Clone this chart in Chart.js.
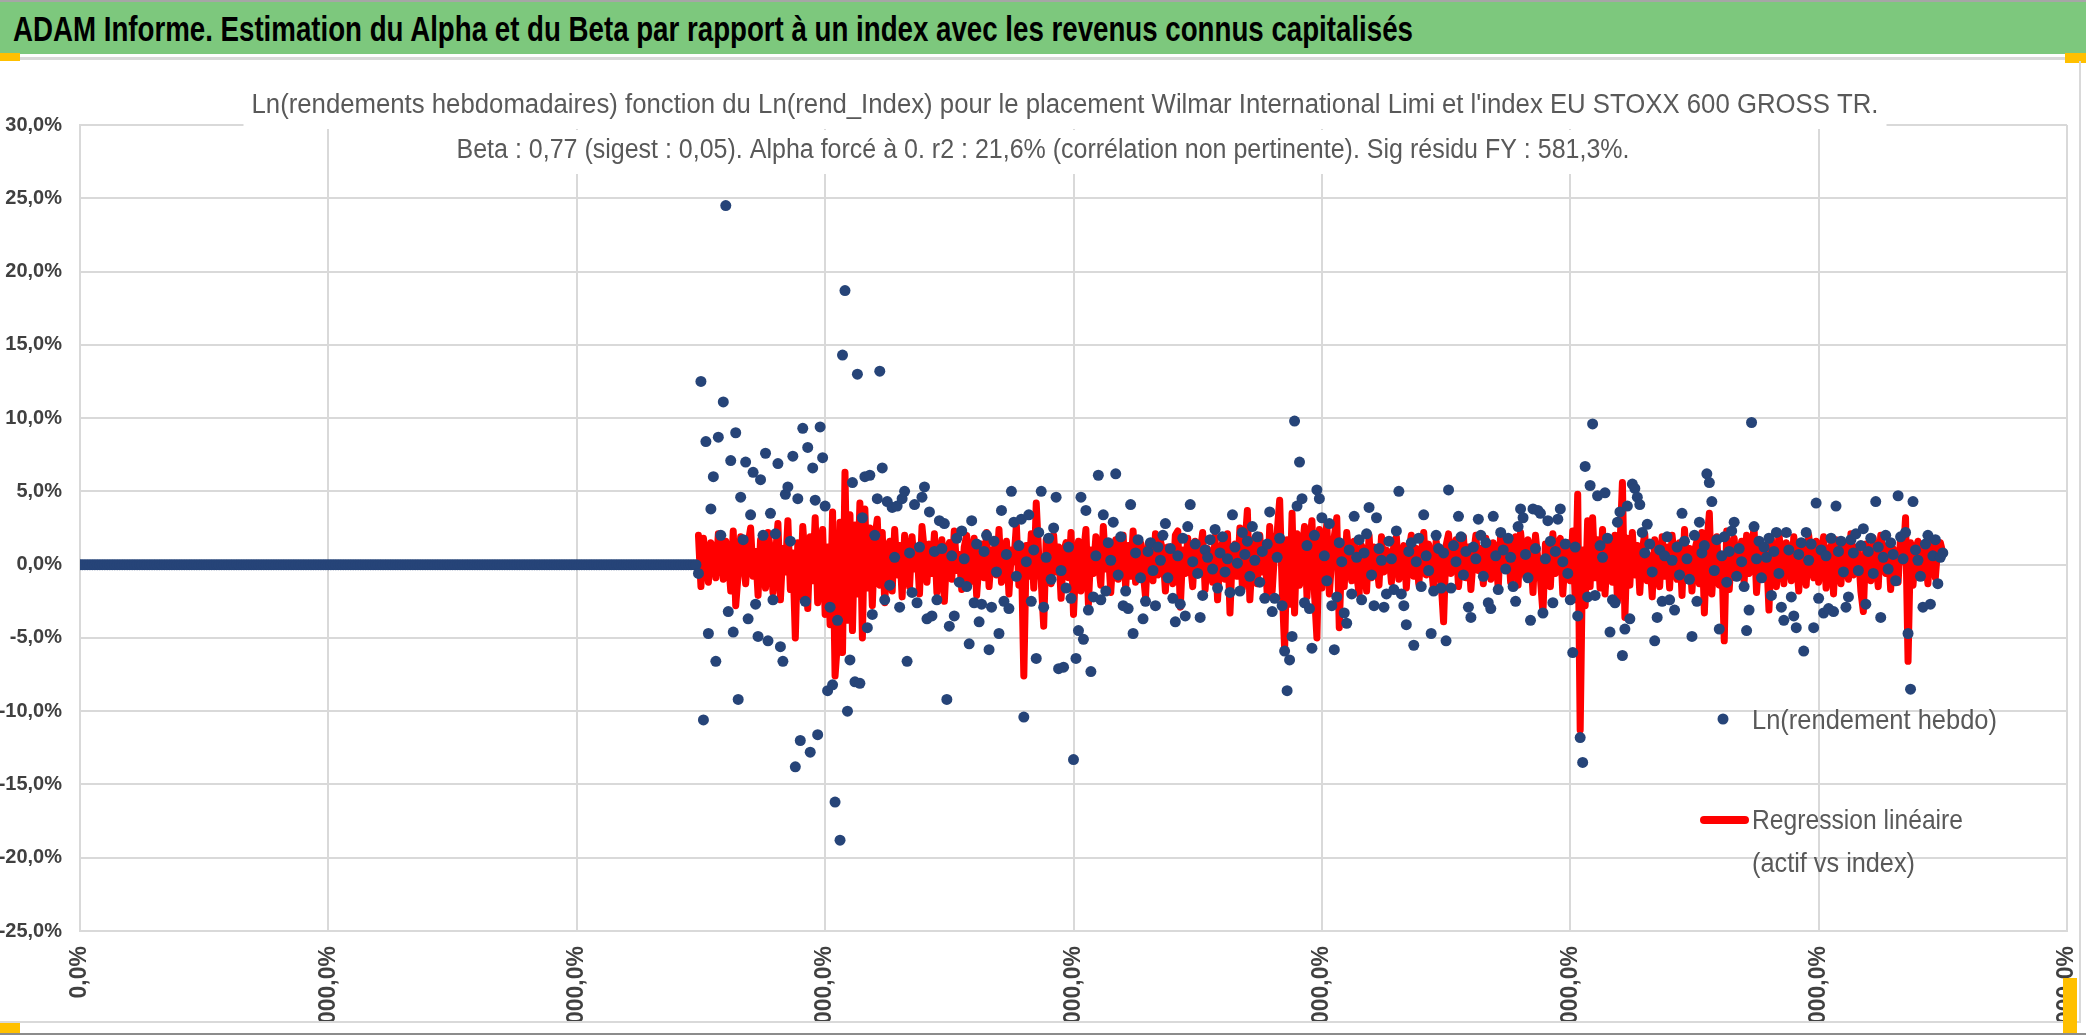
<!DOCTYPE html>
<html>
<head>
<meta charset="utf-8">
<script src="https://cdn.jsdelivr.net/npm/chart.js@4.4.1/dist/chart.umd.min.js"></script>
<style>
  html, body { margin: 0; padding: 0; background: #fff; width: 2086px; height: 1035px; overflow: hidden; position: relative; }
  #bar { position: absolute; left: 0; top: 0; width: 2086px; height: 54px; background: #7dc87d; border-top: 2px solid #a6a6a6; box-sizing: border-box; }
  #barTitle { position: absolute; left: 13px; top: 26px; transform-origin: 0 50%; font-weight: bold; color: #000; white-space: nowrap;
              font-family: "Liberation Sans Narrow", "Liberation Sans", sans-serif; font-size: 35px; line-height: 35px; margin-top: -17px; }
  #sep { position: absolute; left: 20px; top: 57px; width: 2066px; height: 3px; background: #d9d9d9; }
  .handle { position: absolute; background: #ffc000; }
  #wrap { position: absolute; left: 0; top: 61px; width: 2079px; height: 960px; }
  #rightLine { position: absolute; left: 2079px; top: 61px; width: 2px; height: 962px; background: #d9d9d9; }
  #bottomLine { position: absolute; left: 0; top: 1021px; width: 2081px; height: 2px; background: #d9d9d9; }
  #bottomDark { position: absolute; left: 0; top: 1033px; width: 2086px; height: 2px; background: #8c8c8c; }
</style>
</head>
<body>
<div id="bar"><span id="barTitle">ADAM Informe. Estimation du Alpha et du Beta par rapport à un index avec les revenus connus capitalisés</span></div>
<div class="handle" style="left:0;top:53px;width:20px;height:8px"></div>
<div id="sep"></div>
<div class="handle" style="left:2065px;top:53px;width:21px;height:10px"></div>
<div id="wrap"><canvas id="chart"></canvas></div>
<div id="rightLine"></div>
<div id="bottomLine"></div>
<div id="bottomDark"></div>
<div class="handle" style="left:0;top:1023px;width:20px;height:10px"></div>
<div class="handle" style="left:2063px;top:978px;width:14px;height:55px"></div>
<script>
// titre du graphique (2 lignes)
const titre = [
  "Ln(rendements hebdomadaires) fonction du Ln(rend_Index) pour le placement Wilmar International Limi et l'index EU STOXX 600 GROSS TR.",
  "Beta : 0,77 (sigest : 0,05). Alpha forcé à 0. r2 : 21,6% (corrélation non pertinente). Sig résidu FY : 581,3%."
];
const legende = ["Ln(rendement hebdo)", "Regression linéaire", "(actif vs index)"];

// axes (valeurs en %)
const yMin = -25, yMax = 30, yPas = 5;
const xMin = 0, xMax = 800, xPas = 100;

// semaines sans historique : rendement nul
const semainesVides = 249;
// premiere semaine avec historique
const premiereSemaine = 249;

// Ln(rendement hebdo) en %, semaine 249 a 750
const rendHebdo = [
  -0.6, 12.5, -10.6, 8.4, -4.7, 3.8, 6.0, -6.6, 8.7, 2.0,
  11.1, 24.5, -3.2, 7.1, -4.6, 9.0, -9.2, 4.6, 1.7, 7.0,
  -3.7, 3.4, 6.3, -2.7, -4.9, 5.8, 2.0, 7.6, -5.2, 3.5,
  -2.4, 2.1, 6.9, -5.6, -6.6, 4.8, 5.3, 1.6, 7.4, -13.8,
  4.5, -12.0, 9.3, -2.5, 8.0, -12.8, 6.6, 4.4, -11.6, 9.4,
  7.3, 4.0, -8.6, -2.9, -8.2, -16.2, -3.8, -18.8, 14.3, 18.7,
  -10.0, -6.5, 5.6, -8.0, 13.0, -8.1, 3.2, 6.0, -4.3, 6.1,
  -3.4, 2.0, 4.5, 13.2, 6.6, -2.4, 4.3, -1.4, 3.9, 0.5,
  4.0, -2.9, 4.5, 5.0, -6.6, 0.8, -1.9, 4.1, -2.6, 1.2,
  4.6, 5.3, -3.7, 3.6, -3.5, 0.9, -2.4, 3.0, 1.1, 2.8,
  -9.2, -4.2, 0.6, -3.5, 1.8, -1.2, 2.3, 0.4, -1.5, -5.4,
  3.0, -2.6, 1.4, -3.9, -2.7, 0.9, 2.0, -5.8, -2.9, 1.6,
  -0.5, -4.7, 3.7, -2.5, 0.7, -3.0, 5.0, 2.9, -0.8, 1.3,
  3.1, -10.4, 0.2, 3.4, -2.5, 1.0, -6.4, 2.2, 5.0, -2.9,
  0.5, 1.8, -1.0, 2.5, 4.6, -7.1, -0.4, -7.0, -1.6, 1.2,
  -2.3, -13.3, -6.4, -4.5, 4.6, -5.1, 3.7, -3.1, -7.3, -2.2,
  0.6, 6.1, -2.4, 3.4, -1.8, 1.5, 0.3, 2.9, 6.2, -0.7,
  1.9, -2.8, -1.8, -3.0, 4.1, -4.7, 0.8, 1.7, -0.9, -3.7,
  -2.5,
  0.9, 1.5, -0.4, -2.8, 1.2, 0.3, 2.0, 2.8, -0.9, 1.1,
  -2.3, -3.9, 0.6, -2.7, 1.8, -3.5, 2.6, 4.1, 0.2, 1.4,
  -0.6, -3.6, -2.1, 1.0, 0.5, 1.7, -0.3, 2.4, -1.6, 0.8,
  1.9, -0.5, 0.4, -1.9, 3.4, 1.2, 0.1, -1.8, 2.2, 0.7,
  1.6, -0.8, 2.6, 0.3, 1.9, -1.2, 0.9, -2.3, 1.4, 3.6,
  -3.2, -2.3, 0.5, 1.8, -2.8, -5.9, -8.6, -6.5, -4.9, 9.8,
  4.0, 7.0, 4.5, -2.6, 1.3, -3.0, -5.7, 2.0, 5.1, 4.5,
  3.2, 0.6, -1.1, 2.8, -2.8, -5.8, -2.2, 1.5, 0.2, -3.3,
  -4.0, 1.0, -2.0, 3.3, 0.5, 1.7, -2.4, 0.8, 2.1, 3.9,
  -0.7, -2.8, 3.2, 1.1, 0.3, -2.9, -2.0, 1.6, 0.4, -1.7,
  2.3, 5.0, -2.0, -2.8, -4.1, 0.9, 1.5, -5.5, 0.2, 1.8,
  -1.5, 3.4, 0.6, -0.4, -4.7, -1.8, 2.0, 1.1, -1.6, 0.8,
  -5.2, 5.1, -1.6, 1.3, 0.2, 3.3, 1.9, -0.7, 0.9, -2.9,
  -3.6, 1.2, 0.4, 3.1, 2.0, -0.8, 1.5, -2.6, -3.0, 3.3,
  0.6, -1.7, 2.2, 1.0, -0.3, 1.8, 0.5, -1.5, -2.5, 2.6,
  3.8, 3.2, 0.7, -0.9, -3.8, 3.8, 1.1, 3.7, 3.5, -3.3,
  0.4, 3.0, 1.6, -2.6, 0.9, 3.1, 3.8, 0.2, 1.4, -0.6,
  -2.4, -6.0, 1.2, -3.5, -11.8, -13.5, 6.7, -2.2, 5.4, 9.6,
  -2.1, 4.7, 1.3, 0.5, 4.9, 1.8, -4.6, -2.4, -2.6, 2.9,
  3.6, -6.2, -4.4, 4.0, -3.7, 5.5, 5.2, 4.6, 4.1, 2.2,
  0.8, 2.75, 1.4, -0.5, -5.2, -3.6, 1.0, -2.5, 0.6, 1.9,
  -2.4, 0.3, -3.1, 1.2, -0.7, 3.5, 1.6, 0.4, -1.0, -4.9,
  2.0, -2.5, 2.9, 0.8, 1.3, 6.2, 5.6, 4.3, -0.4, 1.7,
  -4.4, 0.6, 1.9, -1.2, 0.9, 2.3, 2.9, -0.8, 1.1, 0.2,
  -1.5, -4.5, -3.1, 9.7, 2.6, 0.4, 1.6, -0.9, 1.2, 0.5,
  1.8, -2.1, 0.9, 2.2, -0.6, -2.9, -3.8, 2.2, 1.0, -2.2,
  -3.5, -4.3, 0.7, 1.5, -5.9, 2.2, 0.3, 1.4, -4.3, 4.2,
  -2.3, 1.0, -3.3, 0.6, -3.0, 1.8, -3.2, 4.0, 0.9, 1.6,
  -0.5, -2.9, -2.2, 1.7, 0.8, 2.1, -0.4, 1.3, 2.45, -2.7,
  0.9, 1.8, -0.6, 4.3, 1.2, -3.6, 0.5, 2.0, -0.3, 1.5,
  0.7, -1.1, 4.7, 1.9, 0.4, 2.2, -4.7, -8.5, 4.3, 1.0,
  0.3, -0.8, -2.9, 1.4, 2.0, -2.7, 0.6, 1.7, -1.3, 0.5,
  0.8
];

// Regression lineaire (actif vs index) en %, semaine 249 a 750
const regression = [
  2.0, -1.5, 1.8, 0.4, -1.2, 1.5, 0.8, -0.9, 2.1, 1.2,
  -1.0, 1.6, 0.5, -1.8, 2.3, -2.8, -0.6, 1.9, 0.7, -1.3,
  1.4, 2.5, -0.8, 0.9, -2.1, 1.7, 0.3, -1.6, 2.2, 1.0,
  -1.9, 0.6, 2.8, -2.4, 1.1, -0.5, 3.0, -1.7, 0.8, -5.0,
  1.5, -2.2, 2.6, 0.2, -3.0, 1.9, -1.1, 3.2, -2.6, 0.7,
  2.4, -3.4, 1.2, -4.1, 3.6, -7.6, -5.2, 2.9, -6.0, 6.3,
  -3.8, 3.4, -4.5, 2.7, -2.0, 4.2, -5.0, 3.8, -1.6, 2.5,
  -2.8, 1.8, 3.1, -1.4, 2.2, -2.6, 0.9, 1.6, -1.8, 2.4,
  -0.7, 1.3, -2.2, 2.0, 0.4, -1.5, 1.9, -0.3, 1.1, -2.0,
  2.6, 0.8, -1.2, 1.4, -0.6, 2.1, -1.9, 0.5, 1.7, -2.5,
  0.9, 1.5, -1.0, 2.3, -0.4, 0.7, -1.7, 1.2, 2.0, -1.3,
  0.6, 1.8, -2.1, 0.3, 1.4, -0.9, 2.2, -1.5, 0.8, 1.1,
  -0.7, 2.4, -1.2, 0.5, 1.6, -2.0, 1.0, 0.2, 2.7, -1.4,
  0.9, -7.6, 1.3, -0.8, 2.1, -1.6, 4.2, 0.6, -1.1, -4.2,
  1.7, 0.3, -1.3, 2.0, -0.5, 1.2, -2.3, 0.8, 1.5, -0.9,
  2.2, -3.4, 0.4, 1.6, -1.8, 0.7, 2.4, -2.7, 1.0, -0.6,
  1.9, 0.2, -1.4, 2.6, -0.3, 1.1, -1.9, 0.9, 1.7, -1.0,
  0.5, 2.0, -1.6, 1.3, -0.8, 2.3, -1.2, 0.6, 1.5, -0.4,
  -2.2, 1.4, 0.3, -1.1, 2.1, -0.7, 1.6, 0.9, -1.8, 1.2,
  0.4, -1.3, 2.0, 2.3, -2.9, 1.0, -0.6, 1.8, 0.2, -1.5,
  1.6, -0.4, 0.8, 2.2, -1.7, 1.1, 0.5, -1.2, 1.9, -2.4,
  0.7, 1.5, -1.0, 2.1, -3.3, 0.9, 1.4, -0.8, 2.5, -1.6,
  1.2, 3.7, -2.4, 0.6, 1.8, -1.3, 2.0, -0.5, 1.4, -2.1,
  2.6, -1.8, 1.0, 2.2, 4.4, -1.5, -5.8, 1.7, -2.7, 3.5,
  -3.3, 2.1, -1.4, 0.8, 2.6, -2.2, 1.3, 3.0, -1.9, -5.0,
  2.4, -1.6, 1.1, 2.8, -2.0, 0.5, 1.9, 3.2, -4.3, 1.0,
  -1.5, 2.2, 0.4, -1.1, 1.6, -0.7, -2.0, 1.3, 0.6, -1.8,
  2.0, -0.9, 1.2, 0.3, -1.4, 1.9, -0.5, 1.0, 0.8, -1.2,
  1.5, 1.9, -1.0, 0.4, 1.3, -1.6, 0.9, 2.0, -0.8, 1.1,
  -1.3, 0.6, 2.2, -0.7, 1.4, 0.2, -1.8, 1.6, 0.5, -1.1,
  -3.9, 1.3, 2.1, -0.6, 0.8, 1.7, -1.5, 0.3, 1.9, -0.9,
  1.2, -1.7, 0.6, 2.0, -0.4, 1.1, -1.3, 1.8, 0.2, -1.0,
  1.5, 0.7, -1.6, 2.2, -0.3, 1.0, 1.6, -1.2, 0.4, 1.9,
  -1.4, 2.2, 0.5, -0.8, 1.7, 1.1, -1.9, 2.0, 0.3, -1.0,
  -3.3, 1.4, 0.8, -1.5, 2.1, -0.6, 1.2, 1.8, -2.0, 0.7,
  1.5, -1.1, 2.3, -2.4, 4.8, -11.3, 1.0, -2.8, 3.0, -1.5,
  3.2, -0.9, 1.7, -1.6, 2.4, -2.0, 0.8, 1.5, -1.2, 2.0,
  -2.5, 1.1, 5.6, -3.6, 1.8, -1.4, 2.2, -0.7, 1.3, -1.9,
  1.0, 2.1, -1.1, 0.6, -2.2, 1.7, 0.4, -1.5, 1.9, -0.8,
  1.2, -1.6, 2.0, 0.3, -1.0, 1.5, -2.1, 2.4, -0.5, 1.1,
  -1.8, 0.9, 1.6, -1.3, 2.2, -3.3, 1.4, 3.5, -2.0, 0.8,
  1.9, -1.4, 0.5, -5.2, 2.3, -1.7, 1.0, 1.8, -0.9, 0.4,
  1.6, -1.2, 2.0, -0.6, 1.1, 2.5, -1.9, 0.7, 1.4, -1.0,
  0.9, -3.1, 1.7, 0.2, -1.5, 2.1, 0.6, -1.3, 1.5, 0.8,
  -1.1, 1.9, 0.3, -1.8, 1.2, 0.7, -1.4, 2.0, 0.5, -0.9,
  1.6, -1.2, 0.8, 1.9, -1.6, 0.4, 1.3, -2.0, 1.7, 0.6,
  -1.3, 1.5, 0.2, -1.0, 2.1, -0.7, 1.2, 0.9, -1.8, -3.2,
  1.4, 0.6, -1.1, 1.8, 0.3, -1.5, 2.0, 0.8, -0.6, 1.3,
  -1.7, 1.1, 0.5, -1.2, 1.9, 0.2, 3.2, -6.6, 1.5, -1.4,
  0.9, 1.6, -0.8, 1.2, 0.4, -1.3, 1.7, 0.6, -0.9, 1.3,
  1.5, 0.8
];

const bleu = '#264478', rouge = '#ff0000', gris = '#595959', grisFonce = '#404040', grille = '#d9d9d9';
const police = '"Liberation Sans Narrow", "Liberation Sans", sans-serif';

// titre du bandeau : police haute, resserree a la largeur voulue
(function () {
  const el = document.getElementById('barTitle');
  const w = el.getBoundingClientRect().width;
  el.style.transform = 'scaleX(' + (1400 / w).toFixed(4) + ')';
})();

// texte resserre horizontalement a une largeur donnee
function texteSerre(ctx, txt, x, y, largeur, taille, align) {
  ctx.font = taille + 'px ' + police;
  const w = ctx.measureText(txt).width;
  const k = largeur / w;
  ctx.save();
  ctx.translate(x, y);
  ctx.scale(k, 1);
  ctx.textAlign = align;
  ctx.textBaseline = 'middle';
  ctx.fillText(txt, 0, 0);
  ctx.restore();
}

// points : zeros puis historique
const points = [];
for (let i = 0; i < semainesVides; i++) points.push({ x: i, y: 0 });
rendHebdo.forEach((v, i) => points.push({ x: premiereSemaine + i, y: v }));
const droite = regression.map((v, i) => ({ x: premiereSemaine + i, y: v }));

const fmt = v => v.toFixed(1).replace('.', ',') + '%';

const decor = {
  id: 'decor',
  beforeDatasetsDraw(chart) {
    const ctx = chart.ctx;
    ctx.save();
    [[titre[0], 1065, 45, 1627], [titre[1], 1043, 90, 1173]].forEach(([txt, x, y, w]) => {
      ctx.fillStyle = '#fff';
      ctx.fillRect(x - w / 2 - 8, y - 21, w + 16, 44);
      ctx.fillStyle = gris;
      texteSerre(ctx, txt, x, y, w, 27, 'center');
    });
    ctx.restore();
  },
  afterDatasetsDraw(chart) {
    const ctx = chart.ctx;
    ctx.save();
    ctx.fillStyle = bleu;
    ctx.beginPath();
    ctx.arc(1723, 658, 5.5, 0, Math.PI * 2);
    ctx.fill();
    ctx.strokeStyle = rouge;
    ctx.lineWidth = 8;
    ctx.lineCap = 'round';
    ctx.beginPath();
    ctx.moveTo(1704, 759);
    ctx.lineTo(1745, 759);
    ctx.stroke();
    ctx.fillStyle = gris;
    texteSerre(ctx, legende[0], 1752, 660, 245, 28, 'left');
    texteSerre(ctx, legende[1], 1752, 760, 211, 28, 'left');
    texteSerre(ctx, legende[2], 1752, 803, 163, 28, 'left');
    ctx.restore();
  }
};

new Chart(document.getElementById('chart'), {
  type: 'scatter',
  data: {
    datasets: [{
      label: legende[0],
      data: points,
      pointRadius: 5.5,
      pointBackgroundColor: bleu,
      pointBorderWidth: 0,
      showLine: false
    }, {
      type: 'line',
      label: legende[1] + ' ' + legende[2],
      data: droite,
      borderColor: rouge,
      borderWidth: 7,
      pointRadius: 0,
      tension: 0,
      borderJoinStyle: 'round',
      borderCapStyle: 'round',
      showLine: true
    }]
  },
  options: {
    responsive: true,
    maintainAspectRatio: false,
    animation: false,
    devicePixelRatio: 1,
    layout: { padding: { top: 64, right: 12, left: 0, bottom: 0 } },
    plugins: { legend: { display: false }, title: { display: false }, tooltip: { enabled: false } },
    events: [],
    scales: {
      x: {
        type: 'linear', min: xMin, max: xMax,
        afterFit: s => { s.height = 90; s.paddingLeft = 0; s.paddingRight = 0; },
        grid: { color: grille, lineWidth: 2, drawTicks: false },
        border: { color: grille, width: 2 },
        ticks: {
          stepSize: xPas, autoSkip: false, minRotation: 90, maxRotation: 90, padding: 15,
          color: grisFonce, font: { family: police, size: 23, weight: 'bold' },
          callback: v => fmt(v * 100)
        }
      },
      y: {
        min: yMin, max: yMax,
        afterFit: s => { s.width = 80; s.paddingTop = 0; s.paddingBottom = 0; },
        grid: { color: grille, lineWidth: 2, drawTicks: false },
        border: { color: grille, width: 2 },
        ticks: {
          stepSize: yPas, padding: 18,
          color: grisFonce, font: { family: police, size: 20, weight: 'bold' },
          callback: v => fmt(v)
        }
      }
    }
  },
  plugins: [decor]
});
</script>
</body>
</html>
